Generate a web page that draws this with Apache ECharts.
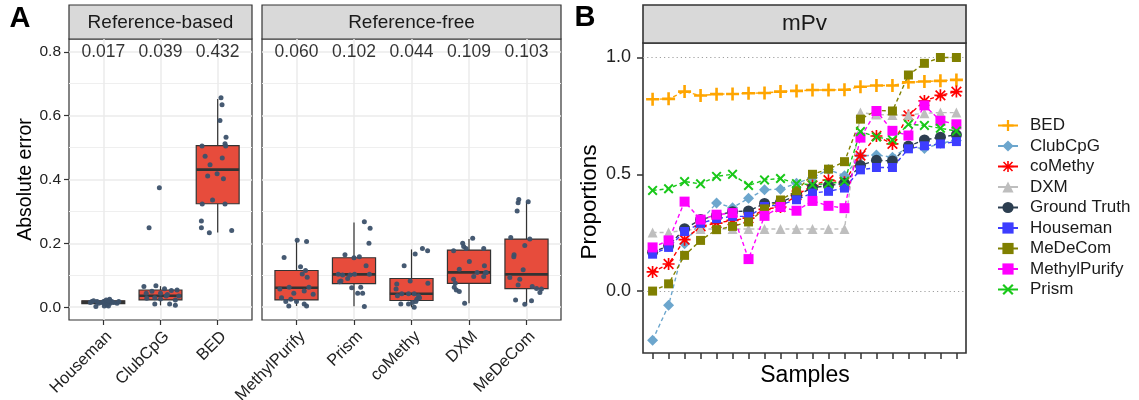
<!DOCTYPE html>
<html><head><meta charset="utf-8">
<script src="https://cdn.jsdelivr.net/npm/echarts@6/dist/echarts.min.js"></script>
<style>html,body{margin:0;padding:0;background:#fff}#c{width:1139px;height:400px}</style>
</head><body><div id="c"></div>
<script>
// ---------------- Panel A data ----------------
const refCats = ['Houseman', 'ClubCpG', 'BED'];
const freeCats = ['MethylPurify', 'Prism', 'coMethy', 'DXM', 'MeDeCom'];
const refMeans = ['0.017', '0.039', '0.432'];
const freeMeans = ['0.060', '0.102', '0.044', '0.109', '0.103'];
const meanLabelY = 0.8;
// box statistics: [lower whisker, Q1, median, Q3, upper whisker]
const refBoxes = [
  [0.003, 0.011, 0.016, 0.020, 0.025],
  [0.006, 0.023, 0.036, 0.054, 0.066],
  [0.234, 0.324, 0.431, 0.506, 0.652]
];
const freeBoxes = [
  [0.004, 0.023, 0.061, 0.115, 0.210],
  [0.003, 0.074, 0.103, 0.155, 0.265],
  [0.000, 0.021, 0.042, 0.090, 0.181],
  [0.0125, 0.075, 0.109, 0.179, 0.214],
  [0.010, 0.058, 0.103, 0.2135, 0.330]
];
// jittered sample points: [jitter offset, absolute error]
const housemanPts = [[-0.2,0.018],[-0.13,0.002],[0.006,0.018],[0.05,0.023],[0.09,0.004],[0.11,0.025],[0.12,0.0125],[0.24,0.0125],[0.27,0.018],[0.035,0.010],[0.064,0.007],[-0.023,0.015],[-0.227,0.015],[-0.17,0.02],[-0.08,0.0125],[0.15,0.018],[0.18,0.015],[-0.11,0.018],[0.09,0.02],[0.017,0.004]];
const clubcpgPts = [[-0.02,0.374],[-0.2,0.249],[-0.29,0.065],[-0.08,0.067],[0.07,0.058],[0.19,0.052],[0.29,0.054],[-0.25,0.044],[-0.1,0.03],[-0.1,0.01],[0.0,0.026],[0.16,0.01],[0.26,0.006],[0.26,0.023],[0.32,0.035],[0.1,0.035],[-0.24,0.028],[0.0,0.044],[0.12,0.04],[-0.15,0.05]];
const bedPts = [[0.058,0.656],[0.076,0.634],[0.04,0.585],[0.146,0.532],[-0.274,0.505],[0.128,0.512],[0.14,0.505],[-0.22,0.473],[0.08,0.467],[-0.134,0.446],[-0.175,0.411],[-0.01,0.418],[0.1,0.402],[-0.27,0.323],[-0.09,0.336],[0.128,0.323],[-0.285,0.270],[-0.285,0.249],[-0.146,0.233],[0.245,0.240]];
const methylpurifyPts = [[-0.216,0.156],[0.012,0.21],[0.175,0.206],[0.07,0.127],[0.157,0.115],[0.1,0.104],[0.186,0.094],[-0.29,0.057],[-0.128,0.0625],[-0.047,0.044],[0.134,0.051],[0.216,0.0625],[0.29,0.041],[-0.186,0.018],[-0.1,0.025],[-0.134,0.004],[0.0,0.018],[0.134,0.010],[0.175,0.004],[-0.26,0.03]];
const prismPts = [[0.18,0.268],[0.28,0.247],[0.26,0.2],[-0.157,0.164],[0.0,0.155],[0.093,0.158],[0.21,0.13],[-0.274,0.103],[-0.198,0.101],[-0.07,0.101],[0.01,0.103],[0.268,0.103],[-0.227,0.082],[-0.04,0.061],[0.117,0.0625],[0.064,0.044],[0.15,0.044],[0.18,0.002],[-0.11,0.09],[-0.25,0.08]];
const comethyPts = [[0.19,0.184],[0.28,0.177],[0.064,0.167],[-0.128,0.13],[-0.023,0.082],[0.285,0.075],[-0.256,0.073],[-0.268,0.057],[-0.169,0.042],[-0.052,0.042],[0.047,0.042],[-0.245,0.036],[0.122,0.036],[0.093,0.025],[-0.186,0.010],[-0.052,0.010],[0.017,0.015],[0.047,0.0],[0.076,0.018],[0.14,0.03]];
const dxmPts = [[0.064,0.216],[-0.11,0.2],[-0.052,0.184],[-0.268,0.177],[0.256,0.184],[0.006,0.143],[-0.169,0.119],[0.268,0.13],[0.14,0.109],[0.285,0.108],[0.256,0.096],[-0.268,0.0875],[-0.239,0.075],[-0.256,0.0625],[-0.221,0.054],[-0.169,0.049],[-0.076,0.0125],[0.3,0.109],[-0.093,0.19],[0.082,0.096]];
const medecomPts = [[-0.134,0.3375],[-0.146,0.327],[0.03,0.33],[-0.163,0.301],[-0.274,0.218],[0.058,0.2135],[-0.03,0.193],[-0.216,0.164],[-0.221,0.158],[-0.29,0.093],[-0.117,0.0875],[-0.146,0.07],[-0.058,0.117],[0.1,0.065],[0.175,0.059],[0.233,0.046],[-0.19,0.023],[-0.03,0.009],[0.087,0.02],[0.26,0.057]];
const refPts = [housemanPts, clubcpgPts, bedPts];
const freePts = [methylpurifyPts, prismPts, comethyPts, dxmPts, medecomPts];
const aTicks = [0, 0.2, 0.4, 0.6, 0.8];
const aMinor = [0.1, 0.3, 0.5, 0.7];

// ---------------- Panel B data ----------------
const sampleCount = 20;
const methodNames = ['BED','ClubCpG','coMethy','DXM','Ground Truth','Houseman','MeDeCom','MethylPurify','Prism'];
const BED = [0.821,0.823,0.854,0.837,0.843,0.844,0.847,0.848,0.854,0.857,0.861,0.861,0.862,0.875,0.88,0.88,0.894,0.897,0.9,0.904];
const ClubCpG = [-0.21,-0.061,0.203,0.30,0.377,0.357,0.397,0.434,0.436,0.462,0.485,0.52,0.494,0.578,0.583,0.573,0.617,0.61,0.633,0.645];
const coMethy = [0.082,0.116,0.22,0.277,0.291,0.303,0.312,0.35,0.36,0.41,0.452,0.475,0.466,0.58,0.664,0.63,0.752,0.814,0.838,0.854];
const DXM = [0.251,0.251,0.26,0.266,0.266,0.266,0.266,0.266,0.266,0.266,0.266,0.266,0.266,0.764,0.756,0.754,0.754,0.761,0.764,0.764];
const GroundTruth = [0.166,0.194,0.267,0.306,0.324,0.34,0.343,0.375,0.381,0.408,0.443,0.451,0.462,0.538,0.56,0.557,0.621,0.647,0.659,0.669];
const Houseman = [0.158,0.187,0.255,0.29,0.31,0.32,0.32,0.362,0.37,0.391,0.42,0.427,0.441,0.519,0.529,0.529,0.609,0.622,0.63,0.64];
const MeDeCom = [0.0,0.031,0.153,0.217,0.263,0.277,0.296,0.352,0.39,0.43,0.5,0.522,0.554,0.736,0.773,0.771,0.925,0.975,1.0,1.0];
const MethylPurify = [0.187,0.217,0.383,0.306,0.327,0.334,0.137,0.322,0.36,0.344,0.386,0.365,0.355,0.657,0.771,0.686,0.666,0.795,0.729,0.714];
const Prism = [0.431,0.438,0.469,0.459,0.491,0.5,0.452,0.476,0.482,0.46,0.455,0.46,0.47,0.683,0.66,0.647,0.714,0.709,0.697,0.685];
const methodValues = [BED, ClubCpG, coMethy, DXM, GroundTruth, Houseman, MeDeCom, MethylPurify, Prism];
const bTicks = [0, 0.5, 1.0];
const refLines = [0, 1];

// ---------------- styling ----------------
const FONT = '"Liberation Sans", Arial, sans-serif';
const methodColors = ['#FFA500','#6CA6CD','#FF0000','#BEBEBE','#2C3E50','#3D3DFF','#808000','#FF00FF','#19C819'];
const PLUS = 'path://M4,0L6,0L6,4L10,4L10,6L6,6L6,10L4,10L4,6L0,6L0,4L4,4Z';
const CROSS = 'path://M0,1.4L1.4,0L5,3.6L8.6,0L10,1.4L6.4,5L10,8.6L8.6,10L5,6.4L1.4,10L0,8.6L3.6,5Z';
const STAR = 'path://M4.3,0L5.7,0L5.7,4.3L10,4.3L10,5.7L5.7,5.7L5.7,10L4.3,10L4.3,5.7L0,5.7L0,4.3L4.3,4.3Z M0.5,1.5L1.5,0.5L5,4L8.5,0.5L9.5,1.5L6,5L9.5,8.5L8.5,9.5L5,6L1.5,9.5L0.5,8.5L4,5Z';
const methodSymbols = [PLUS,'diamond',STAR,'triangle','circle','rect','rect','rect',CROSS];
const methodSizes = [13,11,12,10,11,9,9,10,10];

const gridA1 = {left:69, top:39, width:183, height:281};
const gridA2 = {left:262, top:39, width:299, height:281};
const gridB = {left:643, top:43, width:323, height:310};

function renderBox(params, api) {
  const x = api.value(0);
  const lo = api.coord([x, api.value(1)]);
  const q1 = api.coord([x, api.value(2)]);
  const md = api.coord([x, api.value(3)]);
  const q3 = api.coord([x, api.value(4)]);
  const hi = api.coord([x, api.value(5)]);
  const w = api.size([0.75, 0])[0];
  const cx = lo[0];
  const st = {stroke:'#333333', lineWidth:1.2};
  return {type:'group', children:[
    {type:'line', shape:{x1:cx,y1:hi[1],x2:cx,y2:q3[1]}, style:st},
    {type:'line', shape:{x1:cx,y1:q1[1],x2:cx,y2:lo[1]}, style:st},
    {type:'rect', shape:{x:cx-w/2,y:q3[1],width:w,height:q1[1]-q3[1]}, style:{fill:'#E74C3C',stroke:'#333333',lineWidth:1.2}},
    {type:'line', shape:{x1:cx-w/2,y1:md[1],x2:cx+w/2,y2:md[1]}, style:{stroke:'#333333',lineWidth:2.6}}
  ]};
}

function gridLineSeries(axisIdx, cats) {
  const data = [];
  aMinor.forEach(v => data.push({yAxis:v, lineStyle:{color:'#EFEFEF', width:1, type:'solid'}}));
  aTicks.forEach(v => data.push({yAxis:v, lineStyle:{color:'#EBEBEB', width:1.5, type:'solid'}}));
  cats.forEach((c,i) => data.push({xAxis:i+1, lineStyle:{color:'#EBEBEB', width:1.5, type:'solid'}}));
  return {type:'scatter', xAxisIndex:axisIdx, yAxisIndex:axisIdx, data:[], z:1, silent:true,
    markLine:{z:1, zlevel:0, silent:true, symbol:'none', label:{show:false}, animation:false, data:data}};
}

function catXAxis(gridIndex, cats) {
  return {type:'value', gridIndex, min:0.4, max:cats.length+0.6,
    axisLine:{show:false, onZero:false}, splitLine:{show:false},
    axisTick:{show:true, length:5, lineStyle:{color:'#333', width:1.2}, customValues:cats.map((c,i)=>i+1)},
    axisLabel:{show:true, rotate:45, fontSize:16.5, color:'#222', fontFamily:FONT, margin:8,
      verticalAlign:'top', align:'right',
      customValues:cats.map((c,i)=>i+1), formatter:(v)=>cats[Math.round(v)-1] || ''}};
}
function aYAxis(gridIndex, showLabels) {
  return {type:'value', gridIndex, min:-0.04, max:0.84,
    axisLine:{show:false, onZero:false}, splitLine:{show:false},
    axisTick:{show:showLabels, length:5, lineStyle:{color:'#333', width:1.2}, customValues:aTicks},
    axisLabel:{show:showLabels, fontSize:15.5, color:'#222', fontFamily:FONT, margin:8, customValues:aTicks,
      formatter:(v)=>v.toFixed(1)}};
}

const series = [];
series.push(gridLineSeries(0, refCats));
series.push(gridLineSeries(1, freeCats));
[[refBoxes, refPts, refMeans, 0], [freeBoxes, freePts, freeMeans, 1]].forEach(([boxes, pts, means, gi]) => {
  series.push({type:'custom', xAxisIndex:gi, yAxisIndex:gi, z:3, silent:true, renderItem:renderBox,
    encode:{x:0, y:[1,2,3,4,5]},
    data: boxes.map((b,i) => [i+1].concat(b))});
  const pdata = [];
  pts.forEach((arr,i) => arr.forEach(p => pdata.push([i+1+p[0], p[1]])));
  series.push({type:'scatter', xAxisIndex:gi, yAxisIndex:gi, z:4, silent:true, symbolSize:5,
    itemStyle:{color:'#3C516A', opacity:0.95}, data:pdata});
  series.push({type:'scatter', xAxisIndex:gi, yAxisIndex:gi, z:6, silent:true, symbolSize:0,
    data: means.map((m,i)=>({value:[i+1, meanLabelY], name:m})),
    label:{show:true, position:'inside', formatter:(p)=>p.name, fontSize:17.5, color:'#000', fontFamily:FONT}});
});
// Panel B reference dotted lines
series.push({type:'line', xAxisIndex:2, yAxisIndex:2, data:[], z:1, silent:true,
  markLine:{z:1, silent:true, symbol:'none', label:{show:false}, animation:false,
    lineStyle:{color:'#A0A0A0', type:[1.2,3], width:1.1},
    data: refLines.map(v=>({yAxis:v}))}});
methodNames.forEach((name, k) => {
  series.push({type:'line', name, xAxisIndex:2, yAxisIndex:2, z:3,
    data: methodValues[k].map((v,i)=>[i+1, v]),
    symbol: methodSymbols[k], symbolSize: methodSizes[k], showAllSymbol:true,
    itemStyle:{color:methodColors[k]},
    lineStyle:{color:methodColors[k], width:1.4, type:[4,3]}});
});

const gridBase = {show:true, borderColor:'#333333', borderWidth:1.2, backgroundColor:'#fff',
  containLabel:false, outerBoundsMode:'none'};
const option = {
  animation:false,
  backgroundColor:'#ffffff',
  textStyle:{fontFamily:FONT},
  grid:[
    Object.assign({}, gridBase, gridA1),
    Object.assign({}, gridBase, gridA2),
    Object.assign({}, gridBase, {borderWidth:1.6}, gridB)
  ],
  xAxis:[
    catXAxis(0, refCats),
    catXAxis(1, freeCats),
    {type:'value', gridIndex:2, min:0.4, max:sampleCount+0.6, axisLine:{show:false, onZero:false}, splitLine:{show:false},
      axisTick:{show:true, length:6, lineStyle:{color:'#333', width:1.5},
        customValues:Array.from({length:sampleCount},(_,i)=>i+1)},
      axisLabel:{show:false}}
  ],
  yAxis:[
    aYAxis(0, true),
    aYAxis(1, false),
    {type:'value', gridIndex:2, min:-0.265, max:1.062, axisLine:{show:false, onZero:false}, splitLine:{show:false},
      axisTick:{show:true, length:6, lineStyle:{color:'#333', width:1.5}, customValues:bTicks},
      axisLabel:{show:true, fontSize:18, color:'#222', fontFamily:FONT, margin:12, customValues:bTicks,
        formatter:(v)=>v.toFixed(1)}}
  ],
  legend:{orient:'vertical', left:992, top:112, itemWidth:20, itemHeight:14, itemGap:3.5,
    data:methodNames, lineStyle:{type:'solid'},
    textStyle:{fontSize:17, color:'#1a1a1a', fontFamily:FONT, padding:[0,0,0,7]}},
  series,
  graphic:[
    {type:'text', x:20, y:19, style:{text:'A', font:'bold 29px '+FONT, fill:'#000', align:'center', verticalAlign:'middle'}},
    {type:'text', x:585, y:18, style:{text:'B', font:'bold 29px '+FONT, fill:'#000', align:'center', verticalAlign:'middle'}},
    {type:'rect', shape:{x:69, y:5, width:183, height:34}, style:{fill:'#D9D9D9', stroke:'#333', lineWidth:1.2}},
    {type:'text', x:160.5, y:22.5, style:{text:'Reference-based', font:'19px '+FONT, fill:'#1a1a1a', align:'center', verticalAlign:'middle'}},
    {type:'rect', shape:{x:262, y:5, width:299, height:34}, style:{fill:'#D9D9D9', stroke:'#333', lineWidth:1.2}},
    {type:'text', x:411.5, y:22.5, style:{text:'Reference-free', font:'19px '+FONT, fill:'#1a1a1a', align:'center', verticalAlign:'middle'}},
    {type:'rect', shape:{x:643, y:5, width:323, height:38}, style:{fill:'#D9D9D9', stroke:'#333', lineWidth:1.6}},
    {type:'text', x:804.5, y:24, style:{text:'mPv', font:'22.5px '+FONT, fill:'#1a1a1a', align:'center', verticalAlign:'middle'}},
    {type:'text', x:26, y:179.5, rotation:Math.PI/2, style:{text:'Absolute error', font:'19.5px '+FONT, fill:'#000', align:'center', verticalAlign:'middle'}},
    {type:'text', x:590, y:202, rotation:Math.PI/2, style:{text:'Proportions', font:'22.5px '+FONT, fill:'#000', align:'center', verticalAlign:'middle'}},
    {type:'text', x:805, y:376, style:{text:'Samples', font:'23px '+FONT, fill:'#000', align:'center', verticalAlign:'middle'}}
  ]
};
const chart = echarts.init(document.getElementById('c'), null, {renderer:'canvas'});
chart.setOption(option);
</script></body></html>
